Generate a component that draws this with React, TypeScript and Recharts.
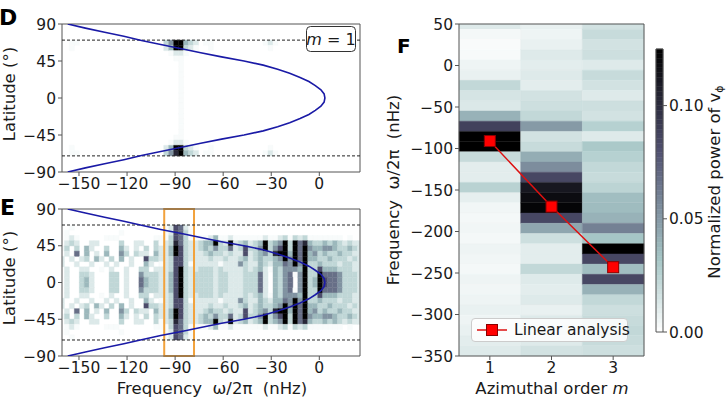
import React from 'react';
import { ComposedChart, XAxis, YAxis, Scatter, Line, ReferenceArea, ReferenceLine } from 'recharts';

const FONT = '"DejaVu Sans", Verdana, sans-serif';
const INK = '#1a1a1a';
const SPINE = '#555555';
const BLUE = '#1a1aa6';
const ORANGE = '#f2a23c';

// ---------- panels D and E (latitude vs frequency) ----------
const FREQ_TICKS = [-150, -120, -90, -60, -30, 0];
const LAT_TICKS = [-90, -45, 0, 45, 90];

// blue curve
const CURVE_LAT = [90, 85, 80, 75, 70, 65, 60, 55, 50, 45, 40, 35, 30, 25, 20, 15, 10, 5, 0,
  -5, -10, -15, -20, -25, -30, -35, -40, -45, -50, -55, -60, -65, -70, -75, -80, -85, -90];
const CURVE_FREQ = [-157, -146, -134, -122, -111, -99, -86, -74, -61, -47, -35, -26, -18.5, -12, -6.5, -2.5, 1, 3, 3.5,
  3, 1, -2.5, -6.5, -12, -18.5, -26, -35, -47, -61, -74, -86, -99, -111, -122, -134, -146, -157];

// heat map rows, top (+70 deg) to bottom (-70 deg); one digit per ~3.1 nHz bin, 0 blank .. 9 black
const D_ROWS = [
  '0011000000 0000000000 0359943201 1000000000 0121000000 00000000000',
  '0010000000 0000000000 0249932100 1000000000 0010000000 00000000000',
  '0000000000 0000000000 0012210000 0000000000 0000000000 00000000000',
  '0000000000 0000000000 0001100000 0000000000 0000000000 00000000000',
  '0000000000 0000000000 0000100000 0000000000 0000000000 00000000000',
  '0000000000 0000000000 0000100000 0000000000 0000000000 00000000000',
  '0000000000 0000000000 0000100000 0000000000 0000000000 00000000000',
  '0000000000 0000000000 0000100000 0000000000 0000000000 00000000000',
  '0000000000 0000000000 0000100000 0000000000 0000000000 00000000000',
  '0000000000 0000000000 0000100000 0000000000 0000000000 00000000000',
  '0000000000 0000000000 0000100000 0000000000 0000000000 00000000000',
  '0000000000 0000000000 0000100000 0000000000 0000000000 00000000000',
  '0000000000 0000000000 0000100000 0000000000 0000000000 00000000000',
  '0000000000 0000000000 0000100000 0000000000 0000000000 00000000000',
  '0000000000 0000000000 0000100000 0000000000 0000000000 00000000000',
  '0000000000 0000000000 0000100000 0000000000 0000000000 00000000000',
  '0000000000 0000000000 0000100000 0000000000 0000000000 00000000000',
  '0000000000 0000000000 0000100000 0000000000 0000000000 00000000000',
  '0000000000 0000000000 0001100000 0000000000 0000000000 00000000000',
  '0000000000 0000000000 0012210000 0000000000 0000000000 00000000000',
  '0010000000 0000000000 0249932100 1000000000 0010000000 00000000000',
  '0011000000 0000000000 0358943201 1000000000 0121000000 00000000000',
];

const E_ROWS = [
  '00100000000000000000 01276210000000000000 000000000000000000000',
  '01000000000010000000 01276310000000000000 000000000000000000000',
  '01210000011100000001 11376311112411211111 121123132311111110100',
  '02320022000030022003 12386322344932923423 493459396843343432322',
  '13030420030042020303 22497322343533623733 593579396954455433432',
  '02060402040053032204 22497322234332322723 453899496945343343322',
  '20202304203040200733 22377322223223223423 433459596944334333232',
  '20020020020200200420 12377312222212225322 432446595933433323322',
  '02002200102002003302 22379322333232222323 421435554933744433322',
  '02003320003302005333 22479323333233222333 620435615933966653332',
  '02003420003302006433 22479323333233222333 620435605934976653332',
  '02003420003302006433 22479323333233222333 620435605934976653332',
  '02003320003302005333 22479323333233222333 620435615933966653332',
  '02002200102002003302 22379322333232222323 421435554933744433322',
  '20020020020200200420 12377312222212225322 432446595933433323322',
  '20202304203040200733 22377322223223223423 433459596944334333232',
  '02060402040053032204 22497322234332322723 453899496945343343322',
  '13030420030042020303 22497322343533623733 593579396954455433432',
  '02320022000030022003 12386322344932923423 493459396843343432322',
  '01210000011100000001 11376311112411211111 121123132311111110100',
  '01000000000010000000 01276310000000000000 000000000000000000000',
  '00100000000000000000 01276210000000000000 000000000000000000000',
];
const LEVELS = [0, 0.02, 0.1, 0.18, 0.3, 0.42, 0.54, 0.66, 0.82, 1];

// ---------- panel F ----------
const F_M = [1, 2, 3];
const F_TICKS = [-350, -300, -250, -200, -150, -100, -50, 0, 50];
// normalized power per ~12.3 nHz bin, from the top of the panel downwards
const POWER_M1 = [0.012, 0.004, 0.002, 0.003, 0.006, 0.008, 0.022, 0.015, 0.013, 0.04, 0.088, 0.13, 0.13, 0.02, 0.01, 0.01,
  0.025, 0.009, 0.005, 0.004, 0.005, 0.004, 0.006, 0.005, 0.004, 0.006, 0.005, 0.006, 0.008, 0.006, 0.008, 0.01, 0.012, 0.012];
const POWER_M2 = [0.008, 0.006, 0.008, 0.012, 0.01, 0.012, 0.01, 0.016, 0.018, 0.022, 0.05, 0.016, 0.02, 0.042, 0.055, 0.085,
  0.112, 0.118, 0.122, 0.085, 0.045, 0.018, 0.01, 0.01, 0.022, 0.012, 0.01, 0.012, 0.008, 0.012, 0.016, 0.012, 0.016, 0.016];
const POWER_M3 = [0.016, 0.02, 0.016, 0.018, 0.012, 0.02, 0.016, 0.012, 0.018, 0.016, 0.026, 0.012, 0.03, 0.026, 0.022, 0.02,
  0.024, 0.035, 0.036, 0.04, 0.06, 0.032, 0.13, 0.085, 0.035, 0.085, 0.04, 0.022, 0.018, 0.02, 0.022, 0.02, 0.018, 0.016];
const LINEAR_M = [1, 2, 3];
const LINEAR_FREQ = [-91, -170, -243];
const CBAR_TICKS = [0, 0.05, 0.1];

// grid geometry
const FREQ_MIN = -160.6;
const FREQ_MAX = 25.4;
const COL_START = -162.2;
const COL_W = 3.1;
const LAT_EDGE = 70.4;
const ROW_H = 6.4;
const F_TOP = 55.9;
const F_BIN = 12.3;
const VMAX = 0.125;
const CBAR_STEPS = 60;

const TICK_FS = 15.5;
const LABEL_FS = 16.5;

function boneR(frac: number): string {
  const t = 1 - Math.min(1, Math.max(0, frac));
  const r = t < 0.746032 ? 0.875 * t : 0.652778 + (t - 0.746032) * 1.367188;
  const g = t < 0.365079 ? 0.875 * t : t < 0.746032 ? 0.319444 + (t - 0.365079) * 1.203125 : 0.777778 + (t - 0.746032) * 0.875;
  const b = t < 0.365079 ? 1.217391 * t : 0.444444 + (t - 0.365079) * 0.875;
  const h = (v: number) => Math.round(Math.min(1, Math.max(0, v)) * 255).toString(16).padStart(2, '0');
  return `#${h(r)}${h(g)}${h(b)}`;
}

const minus = (v: number) => String(v).replace('-', '\u2212');
const tickStyle = { fill: INK, fontSize: TICK_FS, fontFamily: FONT };
const curve = CURVE_LAT.map((lat, i) => ({ lat, f: CURVE_FREQ[i] }));
const linearData = LINEAR_M.map((m, i) => ({ m, f: LINEAR_FREQ[i] }));
const cbarData = [{ x: 0, y: 0 }, { x: 1, y: VMAX }];

function latCells(rows: string[], id: string) {
  const out: React.ReactNode[] = [];
  rows.forEach((raw, r) => {
    const row = raw.replace(/ /g, '');
    const top = LAT_EDGE - r * ROW_H;
    for (let k = 0; k < row.length; k++) {
      const lvl = Number(row[k]);
      if (!lvl) continue;
      const x1 = Math.max(FREQ_MIN, COL_START + k * COL_W);
      const x2 = Math.min(FREQ_MAX, COL_START + (k + 1) * COL_W);
      if (x2 <= x1) continue;
      const c = boneR(LEVELS[lvl]);
      out.push(
        <ReferenceArea key={`${id}-${r}-${k}`} x1={x1} x2={x2} y1={top - ROW_H} y2={top}
          fill={c} fillOpacity={1} stroke={c} strokeWidth={0.4} ifOverflow="visible" />
      );
    }
  });
  return out;
}

function fCells() {
  const out: React.ReactNode[] = [];
  [POWER_M1, POWER_M2, POWER_M3].forEach((col, i) => {
    const m = F_M[i];
    col.forEach((p, r) => {
      const y2 = Math.min(50, F_TOP - r * F_BIN);
      const y1 = Math.max(-350, F_TOP - (r + 1) * F_BIN);
      if (y2 <= y1) return;
      const c = boneR(p / VMAX);
      out.push(
        <ReferenceArea key={`f-${m}-${r}`} x1={m - 0.5} x2={m + 0.5} y1={y1} y2={y2}
          fill={c} fillOpacity={1} stroke={c} strokeWidth={0.4} ifOverflow="visible" />
      );
    });
  });
  return out;
}

function cbarCells() {
  const out: React.ReactNode[] = [];
  for (let i = 0; i < CBAR_STEPS; i++) {
    const c = boneR((i + 0.5) / CBAR_STEPS);
    out.push(
      <ReferenceArea key={`cb-${i}`} y1={(i / CBAR_STEPS) * VMAX} y2={((i + 1) / CBAR_STEPS) * VMAX}
        fill={c} fillOpacity={1} stroke={c} strokeWidth={0.5} ifOverflow="visible" />
    );
  }
  return out;
}

const EmptyShape = () => <g />;

const SquareDot = (p: any) => (
  <rect key={`sq-${p.index}`} x={p.cx - 5.5} y={p.cy - 5.5} width={11} height={11}
    fill="#ff0000" stroke="#8a0000" strokeWidth={1} />
);

function LatPanel({ rows, id, height, bottom, orangeBox }: { rows: string[]; id: string; height: number; bottom: number; orangeBox?: boolean }) {
  return (
    <ComposedChart width={370} height={height} margin={{ top: 24, right: 10, bottom, left: 12 }}>
      <XAxis type="number" dataKey="f" domain={[FREQ_MIN, FREQ_MAX]} ticks={FREQ_TICKS} allowDataOverflow interval={0}
        height={25} tickSize={4} tickMargin={2} axisLine={false} tickLine={{ stroke: SPINE }} tick={tickStyle} tickFormatter={minus} />
      <YAxis type="number" dataKey="lat" domain={[-90, 90]} ticks={LAT_TICKS} allowDataOverflow interval={0}
        width={50} tickSize={4} tickMargin={2} axisLine={false} tickLine={{ stroke: SPINE }} tick={tickStyle} tickFormatter={minus} />
      {latCells(rows, id)}
      <ReferenceLine y={LAT_EDGE} stroke="#222" strokeWidth={1} strokeDasharray="3 2" />
      <ReferenceLine y={-LAT_EDGE} stroke="#222" strokeWidth={1} strokeDasharray="3 2" />
      <Scatter data={curve} shape={EmptyShape} line={{ stroke: BLUE, strokeWidth: 1.6 }} isAnimationActive={false} />
      {orangeBox && (
        <ReferenceArea x1={-96.8} x2={-78.2} y1={-90} y2={90} fill="none" stroke={ORANGE} strokeWidth={2} ifOverflow="visible" />
      )}
      <ReferenceArea x1={FREQ_MIN} x2={FREQ_MAX} y1={-90} y2={90} fill="none" stroke={SPINE} strokeWidth={1} ifOverflow="visible" />
    </ComposedChart>
  );
}

export default function App() {
  return (
    <div style={{ position: 'absolute', left: 0, top: 0, width: 728, height: 413, background: '#fff', overflow: 'hidden', fontFamily: FONT }}>
      <div style={{ position: 'absolute', left: 0, top: 0 }}>
        <LatPanel rows={D_ROWS} id="d" height={200} bottom={3} />
      </div>
      <div style={{ position: 'absolute', left: 0, top: 185 }}>
        <LatPanel rows={E_ROWS} id="e" height={228} bottom={32} orangeBox />
      </div>
      <div style={{ position: 'absolute', left: 380, top: 0 }}>
        <ComposedChart width={348} height={413} data={linearData} margin={{ top: 24, right: 84, bottom: 32, left: 19 }}>
          <XAxis type="number" dataKey="m" domain={[0.5, 3.5]} ticks={F_M} allowDataOverflow interval={0}
            height={25} tickSize={4} tickMargin={2} axisLine={false} tickLine={{ stroke: SPINE }} tick={tickStyle} />
          <YAxis type="number" domain={[-350, 50]} ticks={F_TICKS} allowDataOverflow interval={0}
            width={60} tickSize={4} tickMargin={2} axisLine={false} tickLine={{ stroke: SPINE }} tick={tickStyle} tickFormatter={minus} />
          {fCells()}
          <ReferenceArea x1={0.5} x2={3.5} y1={-350} y2={50} fill="none" stroke={SPINE} strokeWidth={1} ifOverflow="visible" />
          <Line dataKey="f" stroke="#dd1111" strokeWidth={1.5} dot={SquareDot} activeDot={false} isAnimationActive={false} />
        </ComposedChart>
      </div>
      <div style={{ position: 'absolute', left: 648, top: 0 }}>
        <ComposedChart width={80} height={413} data={cbarData} margin={{ top: 49, right: 25, bottom: 81, left: 8 }}>
          <XAxis type="number" dataKey="x" domain={[0, 1]} allowDataOverflow hide />
          <YAxis type="number" dataKey="y" orientation="right" domain={[0, VMAX]} ticks={CBAR_TICKS} allowDataOverflow interval={0}
            width={40} tickSize={4} tickMargin={2} axisLine={false} tickLine={{ stroke: SPINE }} tick={tickStyle}
            tickFormatter={(v: number) => v.toFixed(2)} />
          {cbarCells()}
          <ReferenceArea y1={0} y2={VMAX} fill="none" stroke={SPINE} strokeWidth={1} ifOverflow="visible" />
        </ComposedChart>
      </div>
      <div style={{ position: 'absolute', left: 471, top: 318, width: 157, height: 24, border: '1px solid #cccccc', borderRadius: 4, background: 'rgba(255,255,255,0.85)', boxSizing: 'border-box' }} />
      <svg width={728} height={413} style={{ position: 'absolute', left: 0, top: 0, pointerEvents: 'none' }} fontFamily={FONT}>
        <text x={-1} y={25} fontSize={22} fontWeight="bold" fill="#000">D</text>
        <text x={0} y={215} fontSize={22} fontWeight="bold" fill="#000">E</text>
        <text x={397} y={53} fontSize={20} fontWeight="bold" fill="#000">F</text>
        <text transform="translate(15,94) rotate(-90)" textAnchor="middle" fontSize={LABEL_FS} fill={INK}>Latitude (°)</text>
        <text transform="translate(15,278) rotate(-90)" textAnchor="middle" fontSize={LABEL_FS} fill={INK}>Latitude (°)</text>
        <text x={212} y={394} textAnchor="middle" fontSize={LABEL_FS} fill={INK} style={{ whiteSpace: 'pre' }}>Frequency  ω/2π  (nHz)</text>
        <text transform="translate(399,190) rotate(-90)" textAnchor="middle" fontSize={LABEL_FS} fill={INK} style={{ whiteSpace: 'pre' }}>Frequency  ω/2π  (nHz)</text>
        <text x={552} y={394} textAnchor="middle" fontSize={LABEL_FS} fill={INK}>
          Azimuthal order <tspan fontStyle="italic">m</tspan>
        </text>
        <text transform="translate(720,182) rotate(-90)" textAnchor="middle" fontSize={LABEL_FS} fill={INK}>
          Normalized power of v<tspan fontSize={11} dy={3}>ϕ</tspan>
        </text>
        <rect x={306.5} y={26.5} width={49} height={25} rx={4} fill="#fff" stroke="#333" strokeWidth={1} />
        <text x={331} y={45} textAnchor="middle" fontSize={16} fill={INK} style={{ whiteSpace: 'pre' }}>
          <tspan fontStyle="italic">m</tspan> = 1
        </text>
        <line x1={477} y1={330} x2={507} y2={330} stroke="#dd1111" strokeWidth={1.5} />
        <rect x={486.5} y={324.5} width={11} height={11} fill="#ff0000" stroke="#8a0000" strokeWidth={1} />
        <text x={514} y={335} fontSize={TICK_FS} fill={INK}>Linear analysis</text>
      </svg>
    </div>
  );
}
